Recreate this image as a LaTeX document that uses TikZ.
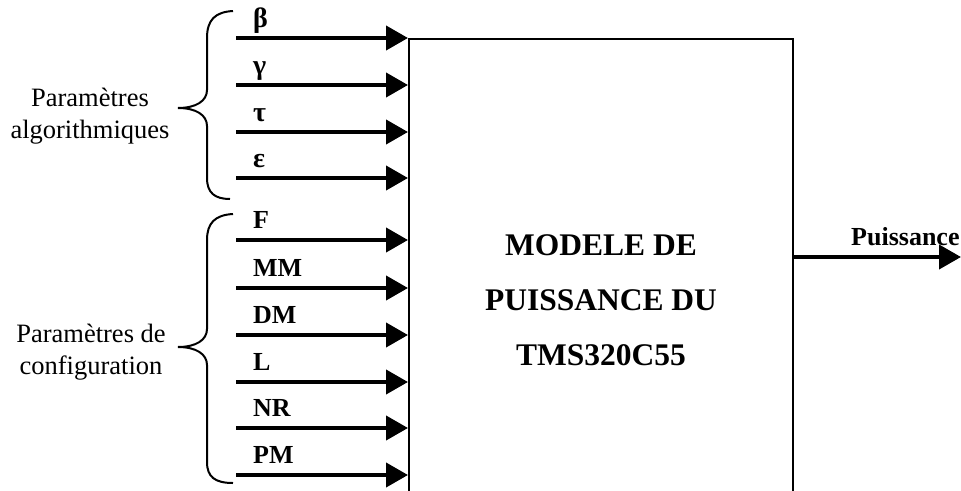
\documentclass[tikz,border=0pt]{standalone}
\usepackage{fontspec}
\setmainfont{Liberation Serif}
\usetikzlibrary{arrows.meta,positioning}

\begin{document}
\begin{tikzpicture}[x=1pt, y=-1pt,
    every node/.style={inner sep=0pt},
    block/.style={rectangle, draw, line width=2pt, minimum width=384pt,
        minimum height=522pt, align=center, font=\fontsize{31.5}{55}\selectfont\bfseries},
    inarrow/.style={line width=4pt, -{Triangle[length=22pt, width=24pt]}},
    inlabel/.style={anchor=base west, font=\fontsize{26}{30}\selectfont\bfseries},
    greeklabel/.style={inlabel, font=\fontsize{28}{30}\selectfont\bfseries},
    grouplabel/.style={align=center, font=\fontsize{26.5}{32}\selectfont},
    bracket/.style={line width=2pt},
]

% Frame
\useasboundingbox (0,0) rectangle (961,490);
\clip (0,0) rectangle (961,490);

% Power model block
\node[block] (model) at (601,300) {MODELE DE\\PUISSANCE DU\\TMS320C55};

% Algorithmic parameters
\coordinate (beta) at (236,38);
\coordinate (gamma) at (236,85);
\coordinate (tau) at (236,132);
\coordinate (eps) at (236,178);
\draw[inarrow] (beta) -- (model.west |- beta);
\draw[inarrow] (gamma) -- (model.west |- gamma);
\draw[inarrow] (tau) -- (model.west |- tau);
\draw[inarrow] (eps) -- (model.west |- eps);
\node[greeklabel] (betalabel) at (253,27) {β};
\node[greeklabel] (gammalabel) at (253,74) {γ};
\node[greeklabel] (taulabel) at (253,121) {τ};
\node[greeklabel] (epslabel) at (253,167) {ε};

% Configuration parameters
\coordinate (f) at (236,240);
\coordinate (mm) at (236,288);
\coordinate (dm) at (236,335);
\coordinate (l) at (236,382);
\coordinate (nr) at (236,428);
\coordinate (pm) at (236,475);
\draw[inarrow] (f) -- (model.west |- f);
\draw[inarrow] (mm) -- (model.west |- mm);
\draw[inarrow] (dm) -- (model.west |- dm);
\draw[inarrow] (l) -- (model.west |- l);
\draw[inarrow] (nr) -- (model.west |- nr);
\draw[inarrow] (pm) -- (model.west |- pm);
\node[inlabel] (flabel) at (253,228) {F};
\node[inlabel] (mmlabel) at (253,276) {MM};
\node[inlabel] (dmlabel) at (253,323) {DM};
\node[inlabel] (llabel) at (253,370) {L};
\node[inlabel] (nrlabel) at (253,416) {NR};
\node[inlabel] (pmlabel) at (253,463) {PM};

% Braces
\draw[bracket] (233,11) .. controls (215,12) and (207,20) .. (207,38) -- (207,90)
    .. controls (207,101) and (196,108) .. (178,108)
    .. controls (196,108) and (207,115) .. (207,126) -- (207,178)
    .. controls (207,193) and (215,199) .. (230,199);
\draw[bracket] (233,214) .. controls (215,215) and (207,223) .. (207,240) -- (207,329)
    .. controls (207,340) and (196,347) .. (178,347)
    .. controls (196,347) and (207,354) .. (207,365) -- (207,462)
    .. controls (207,477) and (215,483) .. (233,483);

% Group labels
\node[grouplabel] (algolabel) at (90,116) {Paramètres\\algorithmiques};
\node[grouplabel] (conflabel) at (91,352) {Paramètres de\\configuration};

% Output
\coordinate (out) at (961,257);
\draw[inarrow] (model.east |- out) -- (out);
\node[inlabel] (outlabel) at (851,245) {Puissance};

\end{tikzpicture}
\end{document}
